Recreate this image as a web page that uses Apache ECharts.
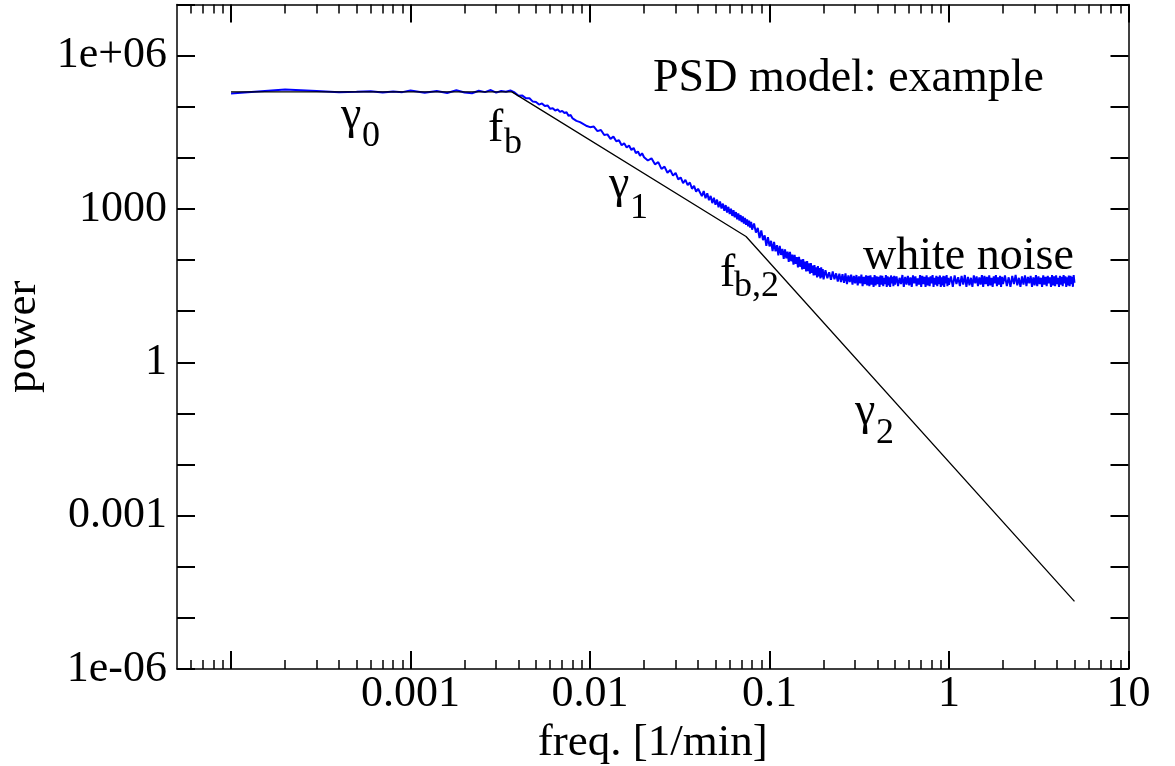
<!DOCTYPE html>
<html><head><meta charset="utf-8">
<script src="https://cdn.jsdelivr.net/npm/echarts@6/dist/echarts.min.js"></script>
<style>html,body{margin:0;padding:0;background:#fff}#chart{width:1175px;height:766px}</style>
</head><body><div id="chart"></div>
<script>
// ---- data (frequency in 1/min, power) ----
const psdFreq = [
  1e-4,2e-4,3e-4,4e-4,5e-4,6e-4,7e-4,8e-4,9e-4,1e-3,
  1.2e-3,1.4e-3,1.6e-3,1.8e-3,2.0e-3,2.2e-3,2.4e-3,2.6e-3,2.8e-3,3.0e-3,3.2e-3,3.4e-3,3.6e-3,
  0.0038,0.0040,0.0042,0.0044,0.0046,0.0048,0.0050,0.0052,0.0054,0.0056,0.0058,0.0060,0.0062,0.0064,0.0066,0.0068,
  0.0070,0.0072,0.0074,0.0076,0.0078,0.0080,0.0082,0.0084,0.0086,0.0088,0.0090,0.0092,0.0094,0.0096,0.0098,0.0100,
  0.0105,0.0110,0.0115,0.0120,0.0125,0.0130,0.0135,0.0140,0.0145,0.0150,0.0155,0.0160,0.0165,0.0170,0.0175,0.0180,0.0185,0.0190,0.0195,0.0200,
  0.021,0.022,0.023,0.024,0.025,0.026,0.027,0.028,0.029,0.030,0.031,0.032,0.033,0.034,0.035,0.036,0.037,0.038,0.039,0.040,
  0.041,0.042,0.043,0.044,0.045,0.046,0.047,0.048,0.049,0.050,
  0.051,0.052,0.053,0.054,0.055,0.056,0.057,0.058,0.059,0.060,
  0.061,0.062,0.063,0.064,0.065,0.066,0.067,0.068,0.069,0.070,
  0.071,0.072,0.073,0.074,0.075,0.076,0.077,0.078,0.079,
  0.080,0.082,0.084,0.086,0.088,0.090,0.092,0.094,0.096,0.098,
  0.100,0.102,0.104,0.106,0.108,0.110,0.112,0.114,0.116,0.118,
  0.120,0.122,0.124,0.126,0.128,0.130,0.132,0.134,0.136,0.138,
  0.140,0.142,0.144,0.146,0.148,0.150,0.152,0.154,0.156,0.158,
  0.160,0.162,0.164,0.166,0.168,0.170,0.172,0.174,0.176,0.178,
  0.180,0.182,0.184,0.186,0.188,0.190,0.192,0.194,0.196,0.198,0.200,
  0.205,0.210,0.215,0.220,0.225,0.230,0.235,0.240,0.245,0.250,
  0.255,0.260,0.265,0.270,0.275,0.280,0.285,0.290,0.295,0.300,
  0.305,0.310,0.315,0.320,0.325,0.330,0.335,0.340,0.345,0.350,
  0.355,0.360,0.365,0.370,0.375,0.380,0.385,0.390,0.395,0.400,
  0.405,0.410,0.415,0.420,0.425,0.430,0.435,0.440,0.445,0.450,
  0.455,0.460,0.465,0.470,0.475,0.480,0.485,0.490,0.495,0.500,
  0.51,0.52,0.53,0.54,0.55,0.56,0.57,0.58,0.59,0.60,
  0.61,0.62,0.63,0.64,0.65,0.66,0.67,0.68,0.69,0.70,
  0.71,0.72,0.73,0.74,0.75,0.76,0.77,0.78,0.79,0.80,
  0.81,0.82,0.83,0.84,0.85,0.86,0.87,0.88,0.89,0.90,
  0.91,0.92,0.93,0.94,0.95,0.96,0.97,0.98,0.99,1.00,
  1.025,1.05,1.075,1.10,1.125,1.15,1.175,1.20,1.225,1.25,
  1.275,1.30,1.325,1.35,1.375,1.40,1.425,1.45,1.475,1.50,
  1.525,1.55,1.575,1.60,1.625,1.65,1.675,1.70,1.725,1.75,
  1.775,1.80,1.825,1.85,1.875,1.90,1.925,1.95,1.975,2.00,
  2.05,2.10,2.15,2.20,2.25,2.30,2.35,2.40,2.45,2.50,
  2.55,2.60,2.65,2.70,2.75,2.80,2.85,2.90,2.95,3.00,
  3.05,3.10,3.15,3.20,3.25,3.30,3.35,3.40,3.45,3.50,
  3.55,3.60,3.65,3.70,3.75,3.80,3.85,3.90,3.95,4.00,
  4.05,4.10,4.15,4.20,4.25,4.30,4.35,4.40,4.45,4.50,
  4.55,4.60,4.65,4.70,4.75,4.80,4.85,4.90,4.95,5.00
];
const psdPower = [
  1.82e5,2.18e5,2.02e5,1.92e5,1.96e5,2.01e5,1.90e5,1.98e5,1.93e5,2.08e5,
  1.88e5,2.04e5,1.85e5,2.10e5,1.90e5,1.84e5,2.06e5,1.93e5,2.12e5,1.89e5,2.03e5,1.96e5,2.08e5,
  1.90e5,1.64e5,1.65e5,1.46e5,1.46e5,1.26e5,1.24e5,1.10e5,1.16e5,1.03e5,1.06e5,9.1e4,9.3e4,8.4e4,8.9e4,7.9e4,
  8.3e4,7.55e4,7.8e4,6.6e4,6.9e4,5.9e4,6.2e4,5.3e4,5.65e4,5.0e4,5.4e4,4.56e4,4.9e4,4.19e4,4.58e4,3.98e4,
  4.10e4,3.33e4,3.51e4,2.79e4,2.88e4,2.35e4,2.60e4,2.11e4,2.21e4,1.76e4,1.92e4,1.59e4,1.74e4,1.43e4,1.56e4,1.24e4,1.33e4,1.09e4,1.23e4,1.03e4,
  8.87e3,9.79e3,7.48e3,8.24e3,6.07e3,6.73e3,5.11e3,5.77e3,4.48e3,5.09e3,3.79e3,4.14e3,3.19e3,3.72e3,2.92e3,3.30e3,2.48e3,2.83e3,2.17e3,2.49e3,
  2.45e3,1.78e3,2.25e3,1.62e3,2.02e3,1.48e3,1.80e3,1.30e3,1.66e3,1.21e3,
  1.52e3,1.08e3,1.40e3,1.02e3,1.27e3,925,1.19e3,850,1.10e3,795,
  1.01e3,730,945,685,870,630,815,590,760,555,
  715,515,670,490,625,455,590,430,560,
  395,520,345,425,270,380,245,305,190,280,
  185,238,150,226,148,195,124,190,126,165,
  106,162,108,146,92,144,95,128,81,127,
  84,114,72,115,74,102,66,104,67,93,
  60,95,61,86,54,87,56,78,50,80,
  51,72,46,76,48,70,44,72,46,67,42,
  63,44,58,41,60,42,55,38,54,37,
  53,36,55,34,50,37,52,33,49,35,
  51,32,48,35,52,31,47,34,50,32,
  49,31,50,33,46,30,51,32,48,34,
  47,30,50,33,49,31,45,34,51,30,
  48,32,46,30,50,35,47,31,49,33,
  48,31,45,34,51,30,47,33,49,32,
  46,30,50,35,48,31,44,33,51,30,
  49,34,47,30,50,32,46,31,48,35,
  51,30,45,33,49,31,47,34,50,30,
  46,32,49,30,48,35,51,31,45,33,
  48,30,50,34,46,31,49,33,51,30,
  47,32,45,30,50,35,48,31,46,33,
  51,30,49,34,47,31,50,32,45,30,
  48,35,51,31,46,33,49,30,47,34,
  50,31,46,30,49,34,51,32,45,30,
  48,33,50,31,47,35,49,30,46,32,
  51,31,48,34,45,30,50,33,47,31,
  49,35,46,30,51,32,48,31,50,34,
  45,30,49,33,47,31,51,35,48,30,
  46,32,50,31,49,34,47,30,51,36
];
const modelFreq  = [1e-4, 3.67e-3, 0.074, 5];
const modelPower = [1.95e5, 1.95e5, 290, 2.1e-5];

// ---- axes ----
const xRange = [5e-5, 10];
const yRange = [1e-6, 1e7];
const xMajorTicks = [1e-4, 1e-3, 1e-2, 0.1, 1, 10];
const xMinorDecades = [1e-5, 1e-4, 1e-3, 1e-2, 0.1, 1];
const xMinorMultipliers = [2, 3, 4, 5, 6, 7, 8, 9];
const xLabelValues = [0.001, 0.01, 0.1, 1, 10];
const xLabelTexts  = ['0.001', '0.01', '0.1', '1', '10'];
const yMajorTicks = [1e-6,1e-5,1e-4,1e-3,1e-2,0.1,1,10,100,1e3,1e4,1e5,1e6,1e7];
const yLabelValues = [1e-6, 1e-3, 1, 1e3, 1e6];
const yLabelTexts  = ['1e-06', '0.001', '1', '1000', '1e+06'];

const lg = Math.log10;
const FONT = 'Liberation Serif, Times New Roman, serif';
const xMinor = [];
xMinorDecades.forEach(d => xMinorMultipliers.forEach(m => {
  const v = lg(d * m);
  if (v > lg(xRange[0]) + 1e-9 && v < lg(xRange[1]) - 1e-9) xMinor.push(v);
}));
function labelFor(vals, texts) {
  return v => { const i = vals.findIndex(t => Math.abs(lg(t) - v) < 1e-6); return i >= 0 ? texts[i] : ''; };
}
function axisBase(extra) {
  return Object.assign({
    type: 'value', scale: true,
    splitLine: { show: false },
    axisLine: { show: false, onZero: false, lineStyle: { color: '#000', width: 1.5 } },
    axisTick: { show: false },
    axisLabel: { show: false },
  }, extra);
}
const tickStyle = { color: '#000', width: 2 };
const minorStyle = { color: '#000', width: 1.5 };
const frameLine = { show: true, onZero: false, lineStyle: { color: '#000', width: 1.5 } };

const xAxes = [
  axisBase({ gridIndex: 0, position: 'bottom', min: lg(xRange[0]), max: lg(xRange[1]),
    axisLine: frameLine,
    axisTick: { show: true, inside: true, length: 18, lineStyle: tickStyle, customValues: xMajorTicks.map(lg) },
    axisLabel: { show: true, margin: 3, fontFamily: FONT, fontSize: 44, color: '#000',
      customValues: xLabelValues.map(lg), formatter: labelFor(xLabelValues, xLabelTexts) },
    name: 'freq. [1/min]', nameLocation: 'middle', nameGap: 44,
    nameTextStyle: { fontFamily: FONT, fontSize: 45, color: '#000' } }),
  axisBase({ gridIndex: 0, position: 'bottom', min: lg(xRange[0]), max: lg(xRange[1]),
    axisTick: { show: true, inside: true, length: 9, lineStyle: minorStyle, customValues: xMinor } }),
  axisBase({ gridIndex: 0, position: 'top', min: lg(xRange[0]), max: lg(xRange[1]),
    axisLine: frameLine,
    axisTick: { show: true, inside: true, length: 18, lineStyle: tickStyle, customValues: xMajorTicks.map(lg) } }),
  axisBase({ gridIndex: 0, position: 'top', min: lg(xRange[0]), max: lg(xRange[1]),
    axisTick: { show: true, inside: true, length: 9, lineStyle: minorStyle, customValues: xMinor } }),
];
const yAxes = [
  axisBase({ gridIndex: 0, position: 'left', min: lg(yRange[0]), max: lg(yRange[1]),
    axisLine: frameLine,
    axisTick: { show: true, inside: true, length: 18, lineStyle: tickStyle, customValues: yMajorTicks.map(lg) },
    axisLabel: { show: true, margin: 10, fontFamily: FONT, fontSize: 44, color: '#000',
      customValues: yLabelValues.map(lg), formatter: labelFor(yLabelValues, yLabelTexts) },
    name: 'power', nameLocation: 'middle', nameGap: 130,
    nameTextStyle: { fontFamily: FONT, fontSize: 45, color: '#000' } }),
  axisBase({ gridIndex: 0, position: 'right', min: lg(yRange[0]), max: lg(yRange[1]),
    axisLine: frameLine,
    axisTick: { show: true, inside: true, length: 18, lineStyle: tickStyle, customValues: yMajorTicks.map(lg) } }),
];

function txt(text, left, top, size) {
  return { type: 'text', left: left, top: top, silent: true,
    style: { text: text, fontFamily: FONT, fontSize: size, fill: '#000' } };
}

const chart = echarts.init(document.getElementById('chart'), null, { renderer: 'canvas' });
chart.setOption({
  animation: false,
  backgroundColor: '#fff',
  grid: { left: 177, right: 46.5, top: 4.5, bottom: 97, containLabel: false, outerBoundsMode: 'none' },
  xAxis: xAxes,
  yAxis: yAxes,
  series: [
    { name: 'PSD', type: 'line', xAxisIndex: 0, yAxisIndex: 0, showSymbol: false, silent: true, z: 2,
      lineStyle: { color: '#0000ff', width: 2 },
      data: psdFreq.map((f, i) => [lg(f), lg(psdPower[i])]) },
    { name: 'model', type: 'line', xAxisIndex: 0, yAxisIndex: 0, showSymbol: false, silent: true, z: 3,
      lineStyle: { color: '#000', width: 1.3 },
      data: modelFreq.map((f, i) => [lg(f), lg(modelPower[i])]) },
  ],
  graphic: [
    txt('PSD model: example', 653, 55.5, 46),
    txt('\u03b3', 341, 93, 46), txt('0', 362, 119, 36),
    txt('f', 488, 106, 46), txt('b', 504, 126, 36),
    txt('\u03b3', 609, 162, 46), txt('1', 630, 191, 36),
    txt('f', 720, 251, 46), txt('b,2', 734, 269, 36),
    txt('white noise', 863, 233.5, 46),
    txt('\u03b3', 855, 389, 46), txt('2', 876, 416, 36),
  ]
});
</script></body></html>
